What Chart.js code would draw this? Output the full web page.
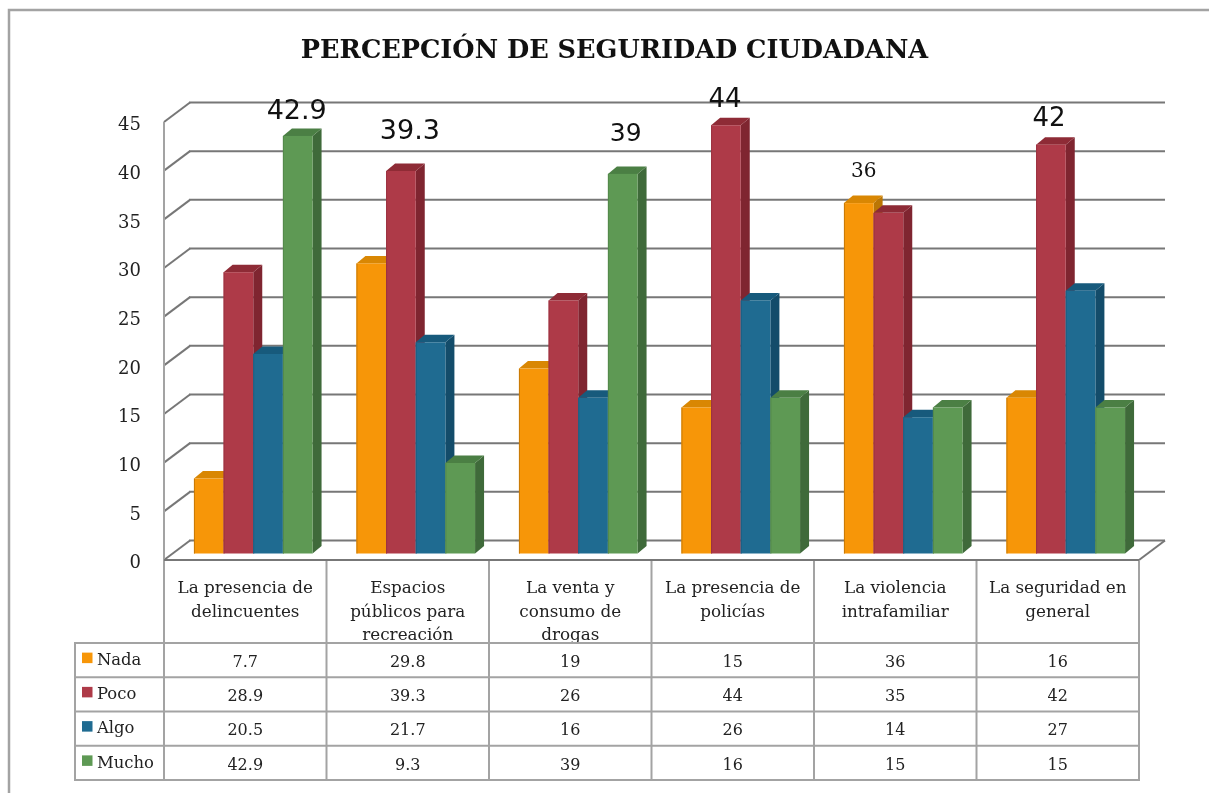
<!DOCTYPE html>
<html>
<head>
<meta charset="utf-8">
<script src="https://cdn.jsdelivr.net/npm/chart.js@4"></script>
<style>
  html, body { margin: 0; padding: 0; background: #fff; overflow: hidden; }
  #caja { width: 1209px; height: 793px; }
</style>
</head>
<body>
<div id="caja"><canvas id="grafico"></canvas></div>
<script>
const categorias = [
    ['La presencia de', 'delincuentes'],
    ['Espacios', 'públicos para', 'recreación'],
    ['La venta y', 'consumo de', 'drogas'],
    ['La presencia de', 'policías'],
    ['La violencia', 'intrafamiliar'],
    ['La seguridad en', 'general']
];
const series = ['Nada', 'Poco', 'Algo', 'Mucho'];
const nada = [7.7, 29.8, 19, 15, 36, 16];
const poco = [28.9, 39.3, 26, 44, 35, 42];
const algo = [20.5, 21.7, 16, 26, 14, 27];
const mucho = [42.9, 9.3, 39, 16, 15, 15];
const valores = [nada, poco, algo, mucho];

// colores: frente, lado oscuro, tapa, borde izquierdo
const colores = ['#f79608', '#ae3a48', '#1f6b91', '#5e9954'];
const lados = ['#bb7604', '#7f2530', '#134c6a', '#3f6a3a'];
const tapas = ['#d98703', '#8e2b36', '#175a7c', '#4b7f44'];
const bordes = ['#c87a06', '#9c3340', '#1b5f82', '#54894b'];

// etiquetas sobre la barra mas alta de cada grupo: serie, tamano, desplazamiento
const etiquetas = [
    { serie: 3, size: 27, dx: -1, dy: -30 },
    { serie: 1, size: 27, dx: 9, dy: -45 },
    { serie: 3, size: 25, dx: 3, dy: -46 },
    { serie: 1, size: 26, dx: -1, dy: -31 },
    { serie: 0, size: 20, dx: 5, dy: -38, serif: true },
    { serie: 1, size: 26, dx: -2, dy: -32 }
];

const SERIF = '"DejaVu Serif", serif';
const GRIS = '#a3a3a3';
const LINEA = '#777777';
const FONDO_X = 26, FONDO_Y = 19.5;   // profundidad de la pared
const BARRA_X = 9, BARRA_Y = 7.5;     // profundidad de cada barra
const PLANO_X = 8, PLANO_Y = 6.5;     // donde se apoyan las barras

function linea(ctx, x1, y1, x2, y2) {
    ctx.beginPath();
    ctx.moveTo(x1, y1);
    ctx.lineTo(x2, y2);
    ctx.stroke();
}

function poli(ctx, color, pts) {
    ctx.fillStyle = color;
    ctx.beginPath();
    pts.forEach((p, i) => i ? ctx.lineTo(p[0], p[1]) : ctx.moveTo(p[0], p[1]));
    ctx.closePath();
    ctx.fill();
}

const pared = {
    id: 'pared',
    beforeDatasetsDraw(chart) {
        const ctx = chart.ctx, y = chart.scales.y, a = chart.chartArea;
        ctx.save();
        // marco exterior
        ctx.strokeStyle = GRIS;
        ctx.lineWidth = 2.5;
        ctx.beginPath();
        ctx.moveTo(9, 793);
        ctx.lineTo(9, 10);
        ctx.lineTo(1209, 10);
        ctx.stroke();

        ctx.strokeStyle = LINEA;
        ctx.lineWidth = 2;
        y.ticks.forEach(t => {
            const py = y.getPixelForValue(t.value);
            linea(ctx, a.left, py, a.left + FONDO_X, py - FONDO_Y);
            linea(ctx, a.left + FONDO_X - 1, py - FONDO_Y, a.right + FONDO_X, py - FONDO_Y);
        });
        ctx.strokeStyle = GRIS;
        linea(ctx, a.left, a.top, a.left, a.bottom);
        ctx.restore();
    },
    // las barras se pintan aparte: Chart.js las dibuja de la ultima a la primera
    beforeDatasetDraw() {
        return false;
    },
    afterDatasetsDraw(chart) {
        const ctx = chart.ctx;
        ctx.save();
        ctx.translate(PLANO_X, -PLANO_Y);
        valores.forEach((fila, s) => {
            chart.getDatasetMeta(s).data.forEach(b => {
                const l = b.x - b.width / 2, r = b.x + b.width / 2, t = b.y, f = b.base;
                poli(ctx, lados[s], [[r, t], [r + BARRA_X, t - BARRA_Y], [r + BARRA_X, f - BARRA_Y], [r, f]]);
                poli(ctx, tapas[s], [[l, t], [l + BARRA_X, t - BARRA_Y], [r + BARRA_X, t - BARRA_Y], [r, t]]);
                ctx.fillStyle = colores[s];
                ctx.fillRect(l, t, r - l, f - t);
                ctx.fillStyle = bordes[s];
                ctx.fillRect(l, t, 1, f - t);
            });
        });
        ctx.restore();

        // numeros sobre las barras
        ctx.save();
        ctx.fillStyle = '#111';
        ctx.textAlign = 'center';
        ctx.textBaseline = 'middle';
        etiquetas.forEach((e, i) => {
            const b = chart.getDatasetMeta(e.serie).data[i];
            ctx.font = e.size + 'px ' + (e.serif ? SERIF : '"DejaVu Sans", sans-serif');
            ctx.fillText(String(valores[e.serie][i]), b.x + PLANO_X + e.dx, b.y + e.dy);
        });
        ctx.restore();
    },
    afterDraw(chart) {
        const ctx = chart.ctx, x = chart.scales.x, a = chart.chartArea;
        const filaAlto = 34.25, tablaY = 643, tablaX = 75;
        const cortes = categorias.map((c, i) => x.getPixelForValue(i) - x.width / categorias.length / 2);
        cortes.push(a.right);
        const fondo = tablaY + filaAlto * series.length;

        ctx.save();
        // piso
        ctx.strokeStyle = LINEA;
        ctx.lineWidth = 2;
        linea(ctx, a.right, a.bottom, a.right + FONDO_X, a.bottom - FONDO_Y);

        // tabla de datos
        ctx.strokeStyle = GRIS;
        ctx.lineWidth = 2;
        cortes.forEach(cx => linea(ctx, cx, a.bottom, cx, fondo));
        linea(ctx, tablaX, tablaY, tablaX, fondo);
        for (let f = 0; f <= series.length; f++) {
            const fy = tablaY + f * filaAlto;
            linea(ctx, tablaX - 1, fy, a.right + 1, fy);
        }
        ctx.strokeStyle = LINEA;
        linea(ctx, a.left, a.bottom, a.right, a.bottom);

        ctx.textBaseline = 'middle';
        series.forEach((nombre, s) => {
            const cy = tablaY + s * filaAlto + filaAlto / 2;
            ctx.fillStyle = colores[s];
            ctx.fillRect(82, cy - 7.5, 10.5, 10.5);
            ctx.fillStyle = '#222';
            ctx.font = '16.4px ' + SERIF;
            ctx.textAlign = 'left';
            ctx.fillText(nombre, 97, cy + 0.5);
            ctx.font = '16px ' + SERIF;
            ctx.textAlign = 'center';
            valores[s].forEach((v, i) => ctx.fillText(String(v), x.getPixelForValue(i), cy + 2.5));
        });
        ctx.restore();
    }
};

new Chart(document.getElementById('grafico'), {
    type: 'bar',
    data: {
        labels: categorias,
        datasets: series.map((nombre, s) => ({
            label: nombre,
            data: valores[s],
            backgroundColor: colores[s],
            categoryPercentage: 0.73,
            barPercentage: 1
        }))
    },
    options: {
        responsive: true,
        maintainAspectRatio: false,
        animation: false,
        layout: { padding: { left: 90, right: 70, top: 0, bottom: 0 } },
        plugins: {
            legend: { display: false },
            tooltip: { enabled: false },
            title: {
                display: true,
                text: 'PERCEPCIÓN DE SEGURIDAD CIUDADANA',
                color: '#111',
                font: { family: SERIF, size: 25.6, weight: 'bold', lineHeight: 1 },
                padding: { top: 39, bottom: 57.4 }
            }
        },
        scales: {
            x: {
                grid: { display: false },
                border: { display: false },
                afterFit: s => { s.height = 233; },
                ticks: {
                    autoSkip: false,
                    maxRotation: 0,
                    padding: 9,
                    color: '#222',
                    font: { family: SERIF, size: 16.8, lineHeight: 1.4 }
                }
            },
            y: {
                min: 0,
                max: 45,
                grid: { display: false },
                border: { display: false },
                afterFit: s => { s.width = 74; },
                ticks: {
                    stepSize: 5,
                    padding: 15,
                    labelOffset: 3.5,
                    color: '#222',
                    font: { family: SERIF, size: 18 }
                }
            }
        }
    },
    plugins: [pared]
});
</script>
</body>
</html>
